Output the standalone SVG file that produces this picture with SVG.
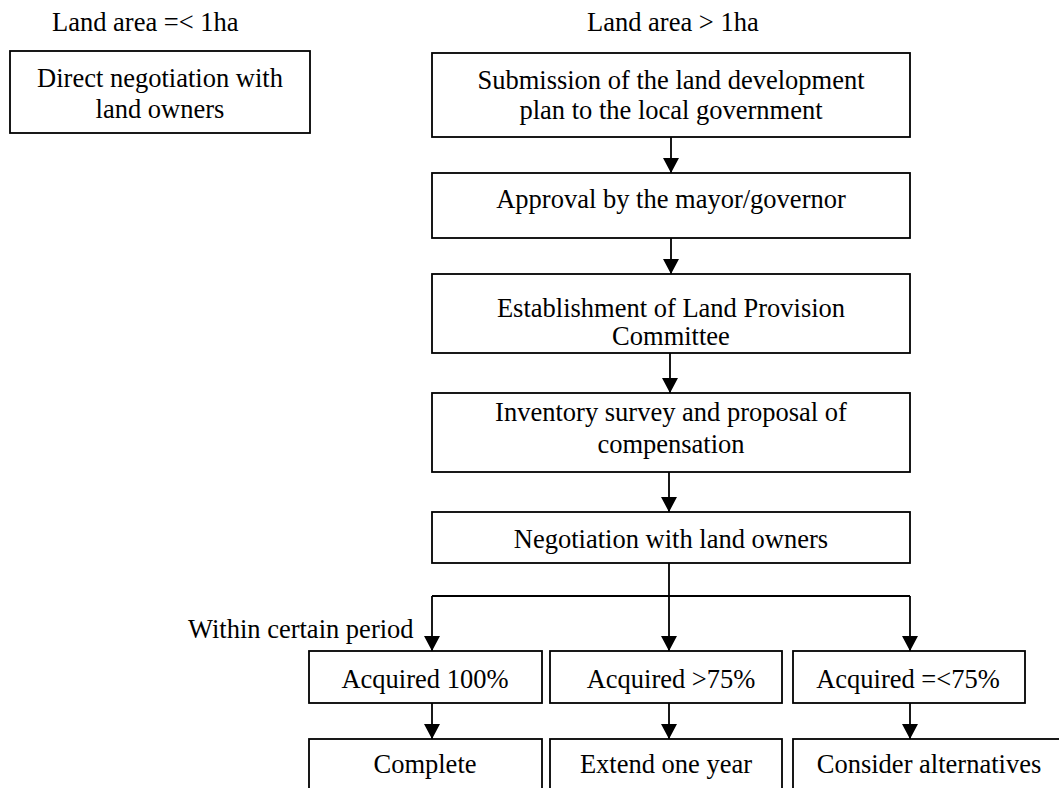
<svg xmlns="http://www.w3.org/2000/svg" width="1059" height="788" viewBox="0 0 1059 788">
  <style>
    .box { fill: #ffffff; stroke: #000000; stroke-width: 1.8; }
    .lbl { font-family: "Liberation Serif", "Times New Roman", serif; font-size: 26.5px; fill: #000000; }
    .c { text-anchor: middle; }
    .wire { fill: none; stroke: #000000; stroke-width: 1.8; }
  </style>
  <defs>
    <!-- downward filled arrowhead, tip at the end of the line -->
    <marker id="tip" markerUnits="userSpaceOnUse" markerWidth="16" markerHeight="16" viewBox="-8 -15 16 16" refX="0" refY="0" orient="0">
      <path d="M-8,-15 L8,-15 L0,0 Z" fill="#000000"/>
    </marker>
  </defs>

  <!-- column headings -->
  <text class="lbl" x="52" y="31">Land area =&lt; 1ha</text>
  <text class="lbl" x="587" y="31">Land area &gt; 1ha</text>

  <!-- connectors -->
  <g id="connectors">
    <path class="wire" d="M671,137 V173" marker-end="url(#tip)"/>
    <path class="wire" d="M671,238 V274" marker-end="url(#tip)"/>
    <path class="wire" d="M670,353 V393" marker-end="url(#tip)"/>
    <path class="wire" d="M669,472 V512" marker-end="url(#tip)"/>
    <path class="wire" d="M669,563 V596"/>
    <path class="wire" d="M432,596 H910"/>
    <path class="wire" d="M432,596 V651" marker-end="url(#tip)"/>
    <path class="wire" d="M669,596 V651" marker-end="url(#tip)"/>
    <path class="wire" d="M910,596 V651" marker-end="url(#tip)"/>
    <path class="wire" d="M432,703 V739" marker-end="url(#tip)"/>
    <path class="wire" d="M669,703 V739" marker-end="url(#tip)"/>
    <path class="wire" d="M910,703 V739" marker-end="url(#tip)"/>
  </g>

  <g id="direct">
    <rect class="box" x="10" y="51" width="300" height="82"/>
    <text class="lbl c" x="160" y="87">Direct negotiation with</text>
    <text class="lbl c" x="160" y="118">land owners</text>
  </g>

  <g id="submission">
    <rect class="box" x="432" y="53" width="478" height="84"/>
    <text class="lbl c" x="671" y="89">Submission of the land development</text>
    <text class="lbl c" x="671" y="119">plan to the local government</text>
  </g>

  <g id="approval">
    <rect class="box" x="432" y="173" width="478" height="65"/>
    <text class="lbl c" x="671" y="208">Approval by the mayor/governor</text>
  </g>

  <g id="committee">
    <rect class="box" x="432" y="274" width="478" height="79"/>
    <text class="lbl c" x="671" y="317">Establishment of Land Provision</text>
    <text class="lbl c" x="671" y="345">Committee</text>
  </g>

  <g id="inventory">
    <rect class="box" x="432" y="393" width="478" height="79"/>
    <text class="lbl c" x="671" y="421">Inventory survey and proposal of</text>
    <text class="lbl c" x="671" y="453">compensation</text>
  </g>

  <g id="negotiation">
    <rect class="box" x="432" y="512" width="478" height="51"/>
    <text class="lbl c" x="671" y="548">Negotiation with land owners</text>
  </g>

  <text class="lbl" x="188" y="638">Within certain period</text>

  <g id="acq100">
    <rect class="box" x="309" y="651" width="233" height="52"/>
    <text class="lbl c" x="425" y="688">Acquired 100%</text>
  </g>
  <g id="acq75">
    <rect class="box" x="550" y="651" width="232" height="52"/>
    <text class="lbl c" x="671" y="688">Acquired &gt;75%</text>
  </g>
  <g id="acqless">
    <rect class="box" x="793" y="651" width="232" height="52"/>
    <text class="lbl c" x="908" y="688">Acquired =&lt;75%</text>
  </g>

  <g id="complete">
    <rect class="box" x="309" y="739" width="233" height="70"/>
    <text class="lbl c" x="425" y="773">Complete</text>
  </g>
  <g id="extend">
    <rect class="box" x="550" y="739" width="232" height="70"/>
    <text class="lbl c" x="666" y="773">Extend one year</text>
  </g>
  <g id="alternatives">
    <rect class="box" x="793" y="739" width="280" height="70"/>
    <text class="lbl c" x="929" y="773">Consider alternatives</text>
  </g>
</svg>
